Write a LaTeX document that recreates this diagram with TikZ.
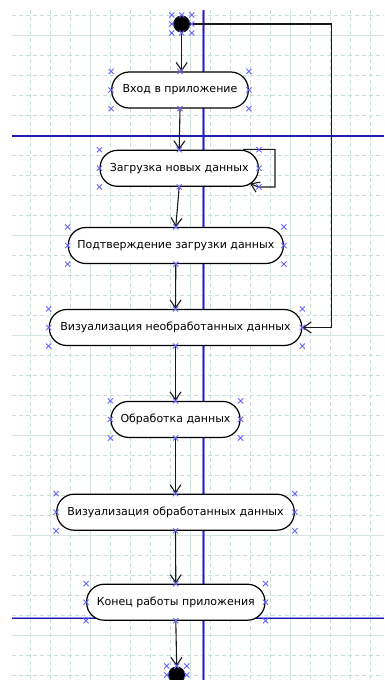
\documentclass[tikz,border=0pt]{standalone}
\usepackage{fontspec}
\setmainfont{DejaVu Sans}
\usetikzlibrary{arrows.meta,calc}
\definecolor{gridd}{RGB}{200,222,222}
\definecolor{grids}{RGB}{212,228,228}
\definecolor{lane}{RGB}{30,30,175}
\definecolor{laneedge}{RGB}{140,140,230}
\definecolor{hnd}{RGB}{100,100,255}
\tikzset{
 act/.style={draw=black, line width=1.2pt, fill=white, rounded corners=17.5pt, minimum height=36pt, inner sep=0pt, font=\fontsize{11}{13}\selectfont},
 conn/.style={line width=1.1pt, draw=black!90, -{Straight Barb[length=8pt,width=11pt]}},
 laneedgel/.style={draw=laneedge, line width=2.2pt},
 lanel/.style={draw=lane, line width=1.1pt},
 hmark/.style={draw=hnd, line width=0.9pt},
 startst/.style={circle, fill=black, minimum size=17pt, inner sep=0pt},
 gdash/.style={draw=gridd, line width=0.8pt, dash pattern=on 4pt off 3pt},
 gsolid/.style={draw=grids, line width=0.9pt},
}
\newcommand{\hxc}[1]{\draw[hmark] #1 ++(-2.6,-2.6) -- ++(5.2,5.2) ++(-5.2,0) -- ++(5.2,-5.2);}
\begin{document}
\begin{tikzpicture}[x=1pt,y=-1pt]
\useasboundingbox (0,0) rectangle (384,680);
\fill[white] (0,0) rectangle (384,680);
% grid
\foreach \x in {30,50,...,370} \draw[gdash] (\x,10) -- (\x,680);
\foreach \y in {15,35,...,675} \draw[gdash] (12,\y) -- (384,\y);
\foreach \x in {90,190,290} \draw[gsolid] (\x,10) -- (\x,680);
\foreach \y in {35,135,...,635} \draw[gsolid] (12,\y) -- (384,\y);
% swimlane lines
\draw[laneedgel] (203.4,10) -- (203.4,680);
\draw[laneedgel] (12,136) -- (384,136);
\draw[laneedgel] (12,618.3) -- (384,618.3);
\draw[lanel] (203.4,10) -- (203.4,680);
\draw[lanel] (12,136) -- (384,136);
\draw[lanel] (12,618.3) -- (384,618.3);
% nodes
\node[startst] (s) at (181.7,24) {};
\node[act, minimum width=136.6pt] (n1) at (180,90) {Вход в приложение};
\node[act, minimum width=158.3pt] (n2) at (179.2,168.3) {Загрузка новых данных};
\node[act, minimum width=215pt] (n3) at (175.8,245.5) {Подтверждение загрузки данных};
\node[act, minimum width=252.4pt] (n4) at (175.5,327.5) {Визуализация необработанных данных};
\node[act, minimum width=129pt] (n5) at (175.5,419.4) {Обработка данных};
\node[act, minimum width=237.6pt] (n6) at (175.5,512.2) {Визуализация обработанных данных};
\node[act, minimum width=178.3pt] (n7) at (175.8,602.2) {Конец работы приложения};
\node[startst] (e) at (176.7,675) {};
% connectors
\coordinate (c1) at (331.7,24);
\coordinate (l1) at (243,149.3);
\coordinate (l2) at (275,149.3);
\coordinate (l3) at (275,187);
\coordinate (l4) at (250,183.5);
\draw[conn] (s.south) -- (s.south |- n1.north);
\draw[conn] (n1.south) -- (n2.north);
\draw[conn] (n2.south) -- (n3.north);
\draw[conn] (n3.south) -- (n4.north);
\draw[conn] (n4.south) -- (n5.north);
\draw[conn] (n5.south) -- (n6.north);
\draw[conn] (n6.south) -- (n7.north);
\draw[conn] (n7.south) -- (e.north);
\draw[conn] (s.east) -- (c1) |- (n4.east);
\draw[conn] (l1) -- (l2) -- (l3) -- (258,187) -- (l4);
% handles
\foreach \n in {n1,n2,n3,n4,n5,n6,n7}
  \foreach \a in {north west,north,north east,east,south east,south,south west,west}
    {\hxc{(\n.\a)}}
\foreach \dx/\dy in {-10/-9,0/-9,10/-9,-10/0,10/0,-10/9,0/9,10/9} {
  \hxc{($(s)+(\dx,\dy)$)}
  \hxc{($(e)+(\dx,\dy)$)}
}
\end{tikzpicture}
\end{document}
